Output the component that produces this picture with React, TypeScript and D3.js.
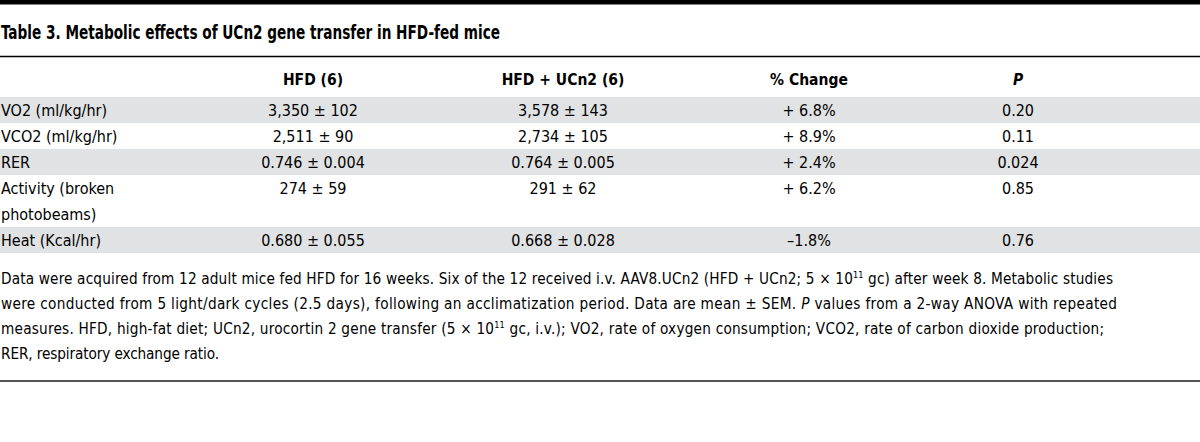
import * as d3 from "d3";

const title = "Table 3. Metabolic effects of UCn2 gene transfer in HFD-fed mice";
const columnKeys = ["hfd", "ucn2", "change", "p"];
const columnHeaders = ["HFD (6)", "HFD + UCn2 (6)", "% Change", "P"];
const rowLabels = [
  ["VO2 (ml/kg/hr)"],
  ["VCO2 (ml/kg/hr)"],
  ["RER"],
  ["Activity (broken", "photobeams)"],
  ["Heat (Kcal/hr)"],
];
const hfdValues = ["3,350 ± 102", "2,511 ± 90", "0.746 ± 0.004", "274 ± 59", "0.680 ± 0.055"];
const ucn2Values = ["3,578 ± 143", "2,734 ± 105", "0.764 ± 0.005", "291 ± 62", "0.668 ± 0.028"];
const changeValues = ["+ 6.8%", "+ 8.9%", "+ 2.4%", "+ 6.2%", "–1.8%"];
const pValues = ["0.20", "0.11", "0.024", "0.85", "0.76"];

type Seg = { t: string; i?: boolean; sup?: boolean };
const notes: Seg[][] = [
  [
    { t: "Data were acquired from 12 adult mice fed HFD for 16 weeks. Six of the 12 received i.v. AAV8.UCn2 (HFD + UCn2; 5 × 10" },
    { t: "11", sup: true },
    { t: " gc) after week 8. Metabolic studies" },
  ],
  [
    { t: "were conducted from 5 light/dark cycles (2.5 days), following an acclimatization period. Data are mean ± SEM. " },
    { t: "P", i: true },
    { t: " values from a 2-way ANOVA with repeated" },
  ],
  [
    { t: "measures. HFD, high-fat diet; UCn2, urocortin 2 gene transfer (5 × 10" },
    { t: "11", sup: true },
    { t: " gc, i.v.); VO2, rate of oxygen consumption; VCO2, rate of carbon dioxide production;" },
  ],
  [{ t: "RER, respiratory exchange ratio." }],
];
const noteWidths = [1112, 1116, 1103, 218];

const W = 1200;
const H = 442;
const font = '"DejaVu Sans Condensed", "Open Sans", sans-serif';

export default function App() {
  const columns = [hfdValues, ucn2Values, changeValues, pValues];
  const x = d3.scaleOrdinal<string, number>().domain(columnKeys).range([313, 563, 809, 1018]);

  const lineCounts = rowLabels.map(r => r.length);
  const starts = [0, ...Array.from(d3.cumsum(lineCounts))];
  const y = d3.scaleLinear().domain([0, d3.sum(lineCounts)]).range([97, 253]);
  const unit = y(1) - y(0);

  const noteY = d3.scaleLinear().domain([0, 1]).range([284, 309]);

  return (
    <svg width={W} height={H} style={{ position: "absolute", left: 0, top: 0 }} fontFamily={font}>
      <rect x={0} y={0} width={W} height={H} fill="#fff" />
      <rect x={0} y={0} width={W} height={4.5} fill="#000" />
      <text x={1} y={38.5} fontSize={19} fontWeight="bold" fill="#000" textLength={499} lengthAdjust="spacingAndGlyphs">
        {title}
      </text>
      <line x1={0} x2={W} y1={56.5} y2={56.5} stroke="#000" strokeWidth={1.3} />

      {columnHeaders.map((h, i) => (
        <text
          key={h}
          x={x(columnKeys[i])}
          y={85}
          textAnchor="middle"
          fontSize={15.5}
          fontWeight="bold"
          fontStyle={columnKeys[i] === "p" ? "italic" : "normal"}
          fill="#000"
        >
          {h}
        </text>
      ))}

      {rowLabels.map((lines, r) => (
        <g key={r}>
          {r % 2 === 0 && (
            <rect x={0} y={y(starts[r])} width={W} height={y(starts[r + 1]) - y(starts[r])} fill="#e1e2e4" />
          )}
          {lines.map((ln, k) => (
            <text key={k} x={1} y={y(starts[r]) + k * unit + 19} fontSize={16} fill="#000">
              {ln}
            </text>
          ))}
          {columns.map((col, c) => (
            <text
              key={c}
              x={x(columnKeys[c])}
              y={y(starts[r]) + 19}
              textAnchor="middle"
              fontSize={16}
              fill="#000"
            >
              {col[r]}
            </text>
          ))}
        </g>
      ))}

      {notes.map((segs, n) => (
        <text
          key={n}
          x={1}
          y={noteY(n)}
          fontSize={15.2}
          fill="#000"
          textLength={noteWidths[n]}
          lengthAdjust="spacing"
        >
          {segs.map((s, k) => (
            <tspan
              key={k}
              fontStyle={s.i ? "italic" : undefined}
              fontSize={s.sup ? 9 : undefined}
              dy={s.sup ? -6 : k > 0 && segs[k - 1].sup ? 6 : undefined}
            >
              {s.t}
            </tspan>
          ))}
        </text>
      ))}

      <line x1={0} x2={W} y1={381} y2={381} stroke="#555" strokeWidth={1.8} />
    </svg>
  );
}
